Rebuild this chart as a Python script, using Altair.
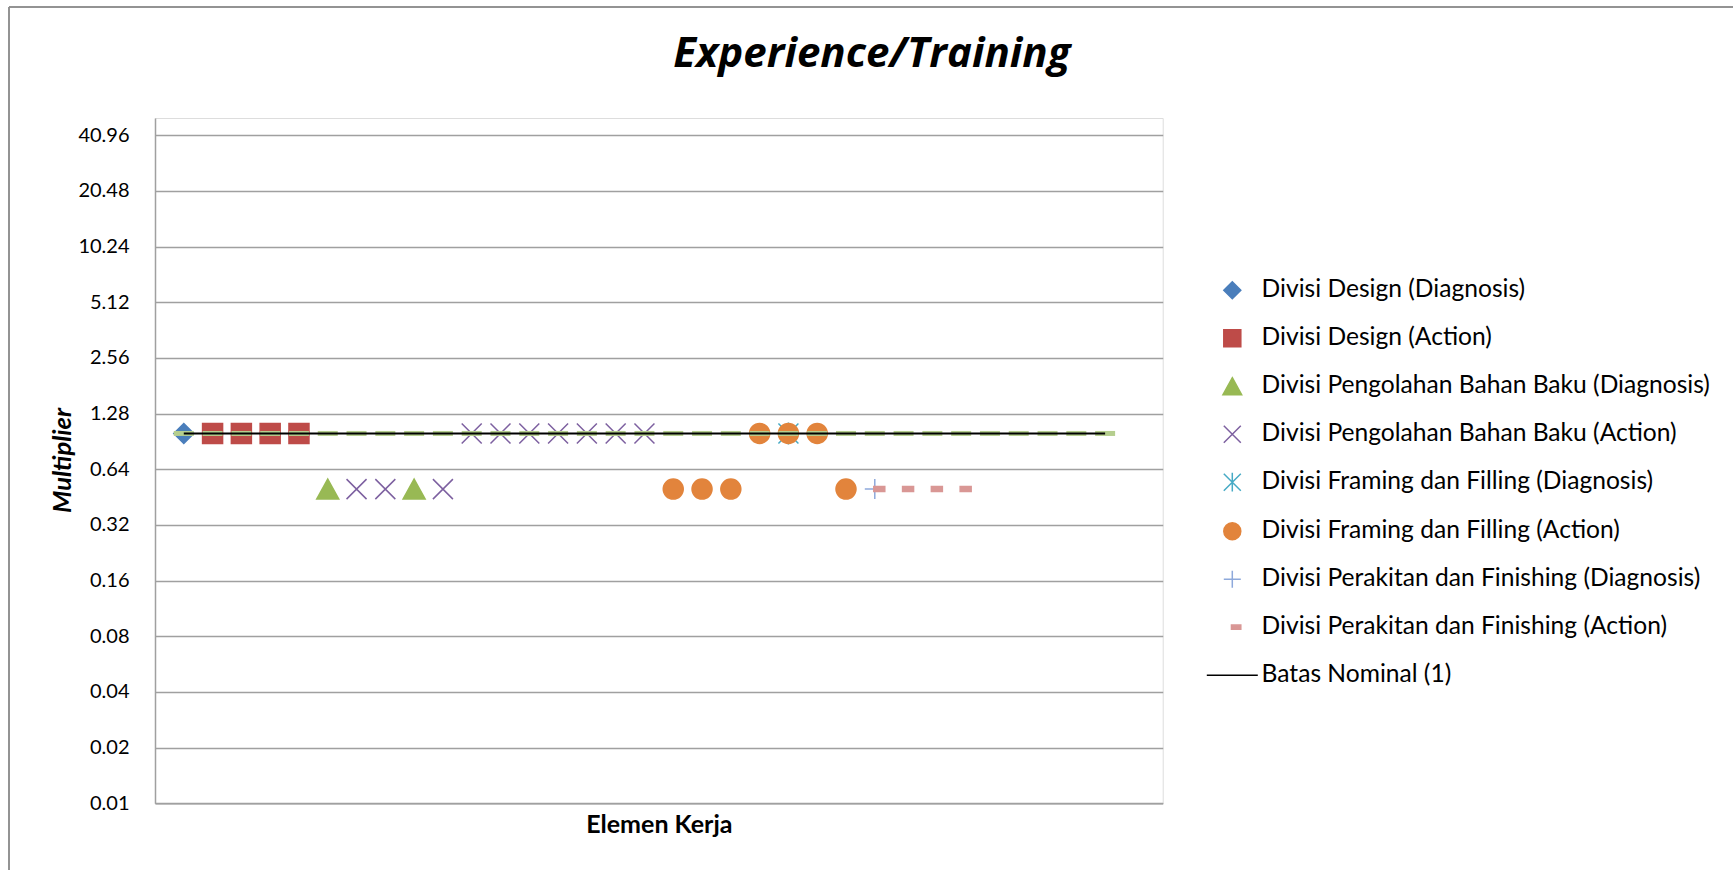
import altair as alt
import pandas as pd

# ---- series data (element position on the x axis, multiplier value) ----
series_names = [
    "Divisi Design (Diagnosis)",
    "Divisi Design (Action)",
    "Divisi Pengolahan Bahan Baku (Diagnosis)",
    "Divisi Pengolahan Bahan Baku (Action)",
    "Divisi Framing dan Filling (Diagnosis)",
    "Divisi Framing dan Filling (Action)",
    "Divisi Perakitan dan Finishing (Diagnosis)",
    "Divisi Perakitan dan Finishing (Action)",
    "Batas Nominal (1)",
]

design_diag_x = [1]
design_diag_y = [1]
design_act_x = [2, 3, 4, 5]
design_act_y = [1, 1, 1, 1]
olah_diag_x = [6, 9]
olah_diag_y = [0.5, 0.5]
olah_act_x = [7, 8, 10, 11, 12, 13, 14, 15, 16, 17]
olah_act_y = [0.5, 0.5, 0.5, 1, 1, 1, 1, 1, 1, 1]
framing_diag_x = [22]
framing_diag_y = [1]
framing_act_x = [18, 19, 20, 21, 22, 23, 24]
framing_act_y = [0.5, 0.5, 0.5, 1, 1, 1, 0.5]
rakit_diag_x = [25]
rakit_diag_y = [0.5]
rakit_act_x = [25, 26, 27, 28]
rakit_act_y = [0.5, 0.5, 0.5, 0.5]

# nominal reference (multiplier = 1) across all work elements
nominal_x = list(range(1, 34))
nominal_y = [1] * 33

y_ticks = [0.01, 0.02, 0.04, 0.08, 0.16, 0.32, 0.64, 1.28, 2.56, 5.12, 10.24, 20.48, 40.96]

# ---- marker styling per series ----
fill_colors = ["#4A7EBB", "#BE4B48", "#98B954", "transparent", "transparent",
               "#E2843C", "transparent", "#D99795", "transparent"]
stroke_colors = ["#4A7EBB", "#BE4B48", "#98B954", "#7D60A0", "#46AAC5",
                 "#E2843C", "#8EA9DB", "#D99795", "#000000"]
shapes = [
    "diamond",
    "square",
    "M0,-1L1.1,1L-1.1,1Z",
    "M-1,-1L1,1M-1,1L1,-1",
    "M-1,-1L1,1M-1,1L1,-1M0,-1.1L0,1.1",
    "M-1,0A1,1,0,1,0,1,0A1,1,0,1,0,-1,0Z",
    "M-1,0L1,0M0,-1L0,1",
    "M-0.1,-0.25L1,-0.25L1,0.25L-0.1,0.25Z",
    "M-3,0L3,0",
]

parts = [
    (series_names[0], design_diag_x, design_diag_y),
    (series_names[1], design_act_x, design_act_y),
    (series_names[2], olah_diag_x, olah_diag_y),
    (series_names[3], olah_act_x, olah_act_y),
    (series_names[4], framing_diag_x, framing_diag_y),
    (series_names[5], framing_act_x, framing_act_y),
    (series_names[6], rakit_diag_x, rakit_diag_y),
    (series_names[7], rakit_act_x, rakit_act_y),
]
rows = []
for name, xs, ys in parts:
    for xv, yv in zip(xs, ys):
        rows.append({"series": name, "pos": xv, "value": yv})
points_df = pd.DataFrame(rows)
nominal_df = pd.DataFrame({"pos": nominal_x, "value": nominal_y})
limit_df = pd.DataFrame({"pos": [nominal_x[0], nominal_x[-1]], "value": [1, 1]})

PLOT_W = 1007.7
PLOT_H = 685.3
GRID = "#A0A0A0"

x_enc = alt.X(
    "pos:Q",
    scale=alt.Scale(domain=[0, 35], nice=False, zero=False),
    axis=alt.Axis(
        labels=False, ticks=False, grid=False,
        domainColor=GRID, domainWidth=1.5,
        title="Elemen Kerja", titleFont="Lato", titleFontSize=25,
        titleFontWeight="bold", titleColor="black",
        titleY=21, titleBaseline="middle",
    ),
)
y_enc = alt.Y(
    "value:Q",
    scale=alt.Scale(type="log", base=2, domain=[0.01, 50.8], nice=False),
    axis=alt.Axis(
        values=y_ticks, format=".2f", ticks=False,
        labelFont="Lato", labelFontSize=20, labelColor="black", labelPadding=26,
        grid=True, gridColor=GRID, gridWidth=1.5,
        domainColor=GRID, domainWidth=1.5,
        title="Multiplier", titleFont="Lato", titleFontSize=25.5,
        titleFontWeight="bold", titleFontStyle="italic", titleColor="black",
        titleX=-93, titleY=342, titleAngle=270,
        titleAlign="center", titleBaseline="middle",
    ),
)

legend = alt.Legend(
    title=None, orient="none", legendX=1065, legendY=159.9,
    padding=0, symbolSize=289, symbolStrokeWidth=1.5,
    labelFont="Lato", labelFontSize=24.6, labelColor="black",
    labelOffset=17, rowPadding=23, labelLimit=700,
)

points = alt.Chart(points_df).mark_point(size=400, strokeWidth=1.5, opacity=1).encode(
    x=x_enc,
    y=y_enc,
    shape=alt.Shape("series:N", scale=alt.Scale(domain=series_names, range=shapes), legend=legend),
    fill=alt.Fill("series:N", scale=alt.Scale(domain=series_names, range=fill_colors), legend=legend),
    stroke=alt.Stroke("series:N", scale=alt.Scale(domain=series_names, range=stroke_colors), legend=legend),
)

nominal_marks = alt.Chart(nominal_df).mark_point(
    shape="M-1,-0.25L1,-0.25L1,0.25L-1,0.25Z", size=400,
    filled=True, fill="#B5CE8E", strokeWidth=0, opacity=1,
).encode(x=x_enc, y=y_enc)

limit_line = alt.Chart(limit_df).mark_line(color="black", strokeWidth=2).encode(x=x_enc, y=y_enc)

# chart-area frame (left and top edges)
frame_left = alt.Chart(limit_df).mark_rule(color="#8C8C8C", strokeWidth=1.5).encode(
    x=alt.value(-146), y=alt.value(-111), y2=alt.value(760)
)
frame_top = alt.Chart(limit_df).mark_rule(color="#8C8C8C", strokeWidth=1.5).encode(
    x=alt.value(-146), x2=alt.value(1590), y=alt.value(-111)
)

chart = alt.layer(frame_left, frame_top, points, nominal_marks, limit_line).properties(
    width=PLOT_W,
    height=PLOT_H,
    padding={"left": 155, "top": 118, "right": 570.3, "bottom": 66.7},
    autosize=alt.AutoSizeParams(type="none"),
    title=alt.TitleParams(
        "Experience/Training", font="Open Sans", fontSize=42, fontStyle="italic",
        fontWeight="bold", color="black", anchor="middle", frame="group",
        dx=213, offset=-103, baseline="alphabetic",
    ),
).configure_view(strokeWidth=0).configure(background="white")

chart.save("out.html", embed_options={"renderer": "svg", "actions": False})
